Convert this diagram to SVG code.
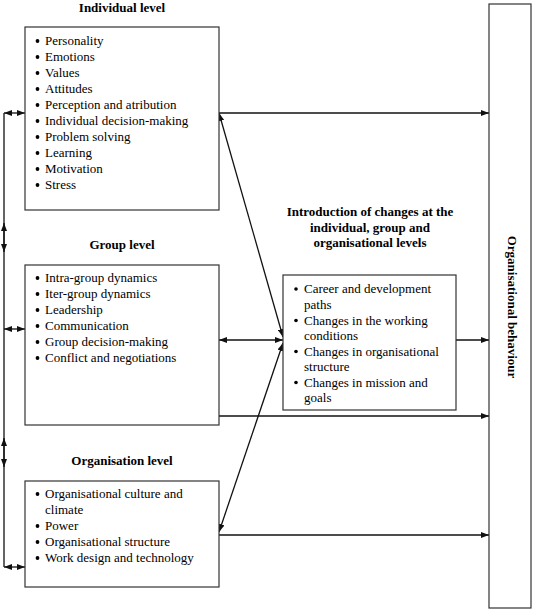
<svg xmlns="http://www.w3.org/2000/svg" width="533" height="610" viewBox="0 0 533 610">
<style>
.box{fill:#fff;stroke:#333;stroke-width:1.2}
.t{font-family:"Liberation Serif","Times New Roman",serif;font-size:13px;fill:#000}
.b{font-weight:bold}
.c{text-anchor:middle}
.ln{fill:none;stroke:#111;stroke-width:1.3}
.a2{marker-start:url(#ah);marker-end:url(#ah)}
.a1{marker-end:url(#ah)}
.dot{fill:#000}
</style>
<defs>
<marker id="ah" viewBox="0 0 8 6" refX="8" refY="3" markerWidth="8" markerHeight="6" markerUnits="userSpaceOnUse" orient="auto-start-reverse">
<path d="M0,0 L8,3 L0,6 z" fill="#111"/>
</marker>
</defs>
<rect width="533" height="610" fill="#fff"/>

<g id="connectors">
<path class="ln" d="M4,113 V567"/>
<path class="ln a2" d="M4,223 V252"/>
<path class="ln a2" d="M4,438 V467"/>
<path class="ln a2" d="M4,113 H25"/>
<path class="ln a2" d="M4,329 H25"/>
<path class="ln a2" d="M4,567 H25"/>
<path class="ln a1" d="M219,113 H489"/>
<path class="ln a1" d="M219,416 H489"/>
<path class="ln a1" d="M219,535 H489"/>
<path class="ln a1" d="M456,340 H489"/>
<path class="ln a2" d="M219,340 H283"/>
<path class="ln a2" d="M219,113 L283,337"/>
<path class="ln a2" d="M219,532 L283,343"/>
</g>

<g id="individual">
<text class="t b c" x="122" y="12">Individual level</text>
<rect class="box" x="25" y="27" width="194" height="183"/>
<g class="dot">
<circle cx="37.5" cy="41" r="1.9"/><circle cx="37.5" cy="57" r="1.9"/><circle cx="37.5" cy="73" r="1.9"/><circle cx="37.5" cy="89" r="1.9"/><circle cx="37.5" cy="105" r="1.9"/><circle cx="37.5" cy="121" r="1.9"/><circle cx="37.5" cy="137" r="1.9"/><circle cx="37.5" cy="153" r="1.9"/><circle cx="37.5" cy="169" r="1.9"/><circle cx="37.5" cy="185" r="1.9"/>
</g>
<g class="t">
<text x="45" y="45">Personality</text>
<text x="45" y="61">Emotions</text>
<text x="45" y="77">Values</text>
<text x="45" y="93">Attitudes</text>
<text x="45" y="109">Perception and atribution</text>
<text x="45" y="125">Individual decision-making</text>
<text x="45" y="141">Problem solving</text>
<text x="45" y="157">Learning</text>
<text x="45" y="173">Motivation</text>
<text x="45" y="189">Stress</text>
</g>
</g>

<g id="group">
<text class="t b c" x="122" y="249">Group level</text>
<rect class="box" x="25" y="265" width="194" height="160"/>
<g class="dot">
<circle cx="37.5" cy="278" r="1.9"/><circle cx="37.5" cy="294" r="1.9"/><circle cx="37.5" cy="310" r="1.9"/><circle cx="37.5" cy="326" r="1.9"/><circle cx="37.5" cy="342" r="1.9"/><circle cx="37.5" cy="358" r="1.9"/>
</g>
<g class="t">
<text x="45" y="282">Intra-group dynamics</text>
<text x="45" y="298">Iter-group dynamics</text>
<text x="45" y="314">Leadership</text>
<text x="45" y="330">Communication</text>
<text x="45" y="346">Group decision-making</text>
<text x="45" y="362">Conflict and negotiations</text>
</g>
</g>

<g id="organisation">
<text class="t b c" x="122" y="465">Organisation level</text>
<rect class="box" x="25" y="481" width="194" height="106"/>
<g class="dot">
<circle cx="37.5" cy="494" r="1.9"/><circle cx="37.5" cy="526" r="1.9"/><circle cx="37.5" cy="542" r="1.9"/><circle cx="37.5" cy="558" r="1.9"/>
</g>
<g class="t">
<text x="45" y="498">Organisational culture and</text>
<text x="45" y="514">climate</text>
<text x="45" y="530">Power</text>
<text x="45" y="546">Organisational structure</text>
<text x="45" y="562">Work design and technology</text>
</g>
</g>

<g id="changes">
<text class="t b c" x="370" y="216">Introduction of changes at the</text>
<text class="t b c" x="370" y="231.5">individual, group and</text>
<text class="t b c" x="370" y="247">organisational levels</text>
<rect class="box" x="283" y="275" width="173" height="135"/>
<g class="dot">
<circle cx="296" cy="289" r="1.8"/><circle cx="296" cy="320.5" r="1.8"/><circle cx="296" cy="351.5" r="1.8"/><circle cx="296" cy="382.5" r="1.8"/>
</g>
<g class="t">
<text x="304" y="293">Career and development</text>
<text x="304" y="308.5">paths</text>
<text x="304" y="324.5">Changes in the working</text>
<text x="304" y="340">conditions</text>
<text x="304" y="355.5">Changes in organisational</text>
<text x="304" y="371">structure</text>
<text x="304" y="386.5">Changes in mission and</text>
<text x="304" y="402">goals</text>
</g>
</g>

<g id="behaviour">
<rect class="box" x="489" y="4" width="42" height="604"/>
<text class="t b c" transform="translate(508,307) rotate(90)" x="0" y="0">Organisational behaviour</text>
</g>
</svg>
